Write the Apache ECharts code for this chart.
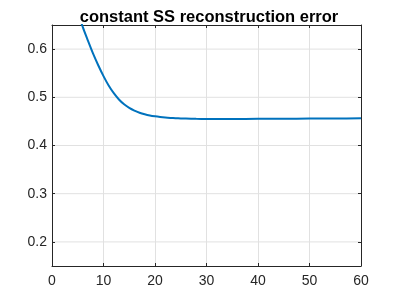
<!DOCTYPE html>
<html><head><meta charset="utf-8">
<script src="https://cdn.jsdelivr.net/npm/echarts@6/dist/echarts.min.js"></script>
<style>html,body{margin:0;padding:0;background:#fff}#c{width:399px;height:299px}</style>
</head><body><div id="c"></div>
<script>
var titleText = 'constant SS reconstruction error';
var xValues = [5,6,7,8,9,10,11,12,13,14,15,16,17,18,19,20,21,22,23,24,25,26,28,30,35,40,45,50,55,60];
var yValues = [0.678,0.645,0.617,0.590,0.566,0.544,0.5245,0.5085,0.4955,0.4855,0.478,0.4723,0.468,0.4648,0.4623,0.4605,0.4591,0.4580,0.4572,0.4566,0.4561,0.4558,0.4553,0.4551,0.4551,0.4553,0.4556,0.4559,0.4561,0.4563];
var xTicks = [0,10,20,30,40,50,60];
var yTicks = [0.2,0.3,0.4,0.5,0.6];

var data = xValues.map(function(x,i){return [x,yValues[i]];});
var axisColor = '#262626';
var font = 'Liberation Sans, Arial, sans-serif';
var chart = echarts.init(document.getElementById('c'));
function xAx(pos, showLabel){
  return {type:'value', position:pos, min:0, max:60, interval:10,
    axisLine:{show:true, onZero:false, lineStyle:{color:axisColor,width:1}},
    axisTick:{show:true, inside:true, length:3, lineStyle:{color:axisColor}},
    axisLabel:{show:showLabel, color:axisColor, fontSize:14, fontFamily:font, margin:8,
      formatter:function(v){return xTicks.indexOf(v)>=0?String(v):'';}},
    splitLine:{show:showLabel, lineStyle:{color:'#e1e1e1', width:1}}};
}
function yAx(pos, showLabel){
  return {type:'value', position:pos, min:0.15, max:0.65, interval:0.05,
    axisLine:{show:true, onZero:false, lineStyle:{color:axisColor,width:1}},
    axisTick:{show:true, inside:true, length:3, lineStyle:{color:axisColor},
      customValues: yTicks},
    axisLabel:{show:showLabel, color:axisColor, fontSize:14, fontFamily:font, margin:5,
      customValues: yTicks, formatter:function(v){return v.toFixed(1);}},
    splitLine:{show:false}};
}
var option = {
  animation:false,
  title:{text:titleText, left:204, textAlign:'center', top:4,
    textStyle:{fontSize:16.5, fontWeight:'bold', color:'#000', fontFamily:font}},
  grid:{left:52, right:38, top:25, bottom:33, containLabel:false},
  xAxis:[xAx('bottom', true), xAx('top', false)],
  yAxis:[yAx('left', true), yAx('right', false)],
  series:[
    {type:'line', data:data, xAxisIndex:0, yAxisIndex:0, showSymbol:false, smooth:0.3,
     clip:true, lineStyle:{color:'#0072BD', width:2}, itemStyle:{color:'#0072BD'}},
    {type:'line', data:[], xAxisIndex:1, yAxisIndex:1}
  ]
};
chart.setOption(option);
var gl = [];
yTicks.forEach(function(v){
  var p1 = chart.convertToPixel({xAxisIndex:0,yAxisIndex:0},[0,v]);
  var p2 = chart.convertToPixel({xAxisIndex:0,yAxisIndex:0},[60,v]);
  gl.push({type:'line', shape:{x1:p1[0]+1,y1:p1[1],x2:p2[0]-1,y2:p2[1]}, z:-1,
    style:{stroke:'#e1e1e1', lineWidth:1}, silent:true});
});
chart.setOption({graphic:gl});
</script></body></html>
